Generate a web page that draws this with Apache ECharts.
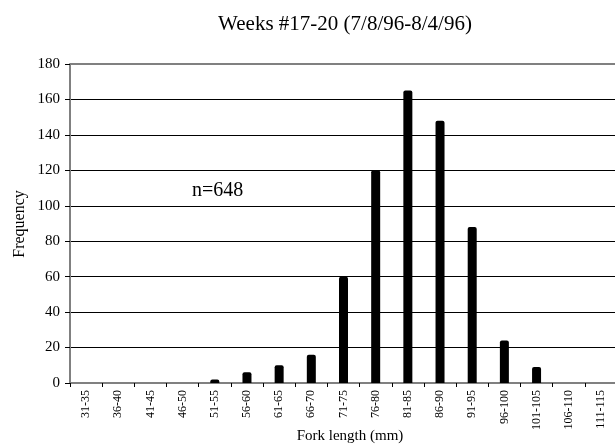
<!DOCTYPE html>
<html><head><meta charset="utf-8">
<script src="https://cdn.jsdelivr.net/npm/echarts@6/dist/echarts.min.js"></script>
<style>html,body{margin:0;padding:0;background:#fff}#c{width:615px;height:445px}</style>
</head><body><div id="c"></div>
<script>
const categories = ['31-35','36-40','41-45','46-50','51-55','56-60','61-65','66-70','71-75','76-80','81-85','86-90','91-95','96-100','101-105','106-110','111-115'];
const frequency = [0,0,0,0,2,6,10,16,60,120,165,148,88,24,9,0,0];
const yTicks = {min:0, max:180, interval:20};
const titleText = 'Weeks #17-20 (7/8/96-8/4/96)';
const nText = 'n=648';
const xName = 'Fork length (mm)';
const yName = 'Frequency';
const font = '"Liberation Serif","Times New Roman",serif';

const chart = echarts.init(document.getElementById('c'));
chart.setOption({
  animation:false,
  backgroundColor:'#fff',
  title:{text:titleText, left:340, top:9, textAlign:'center',
    textStyle:{fontFamily:font, fontSize:21, fontWeight:'normal', color:'#000'}},
  grid:{left:70, top:64, right:-2, bottom:62, containLabel:false, outerBoundsMode:'none'},
  xAxis:{type:'category', data:categories,
    axisLine:{lineStyle:{color:'#808080', width:2}},
    axisTick:{show:true, length:4, lineStyle:{color:'#000'}},
    axisLabel:{rotate:90, fontFamily:font, fontSize:12, color:'#000', margin:7, interval:0},
    splitLine:{show:false}},
  yAxis:{type:'value', min:yTicks.min, max:yTicks.max, interval:yTicks.interval,
    axisLine:{show:true, lineStyle:{color:'#808080', width:2}},
    axisTick:{show:true, length:5, lineStyle:{color:'#000'}},
    axisLabel:{fontFamily:font, fontSize:15, color:'#000', margin:10},
    splitLine:{show:true, lineStyle:{color:'#000', width:1}}},
  series:[{type:'bar', data:frequency, barWidth:9,
    itemStyle:{color:'#000', borderRadius:[2,2,0,0]},
    markLine:{silent:true, symbol:'none', label:{show:false},
      lineStyle:{color:'#808080', width:2, type:'solid'},
      data:[{yAxis:yTicks.max}]}}],
  graphic:[
    {type:'text', left:192, top:181,
      style:{text:nText, fontFamily:font, fontSize:20, fill:'#000'}},
    {type:'text', x:350, y:436,
      style:{text:xName, fontFamily:font, fontSize:15, fill:'#000', textAlign:'center', textVerticalAlign:'middle'}},
    {type:'text', x:20, y:224, rotation:Math.PI/2,
      style:{text:yName, fontFamily:font, fontSize:16, fill:'#000', textAlign:'center', textVerticalAlign:'middle'}}
  ]
});
</script></body></html>
